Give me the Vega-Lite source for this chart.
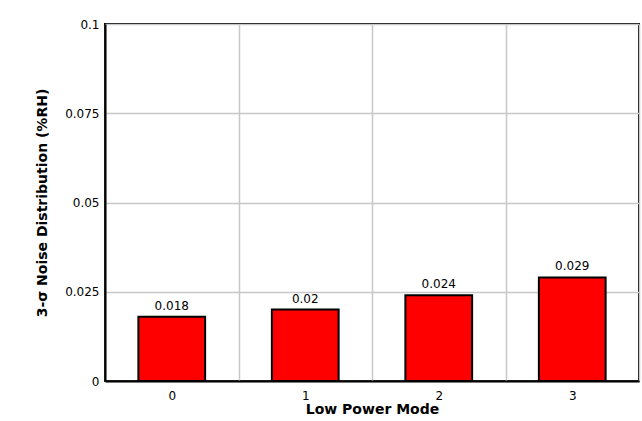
{
  "$schema": "https://vega.github.io/schema/vega-lite/v6.json",
  "width": 534,
  "height": 357,
  "autosize": "none",
  "padding": {"left": 105, "top": 24, "right": 3, "bottom": 40},
  "background": "white",
  "config": {
    "font": "DejaVu Sans",
    "view": {"stroke": "black", "strokeWidth": 2}
  },
  "data": {
    "values": [
      {"mode": "0", "noise": 0.018},
      {"mode": "1", "noise": 0.02},
      {"mode": "2", "noise": 0.024},
      {"mode": "3", "noise": 0.029}
    ]
  },
  "encoding": {
    "x": {
      "field": "mode",
      "type": "nominal",
      "scale": {"paddingInner": 0, "paddingOuter": 0},
      "axis": {
        "title": "Low Power Mode",
        "titleFont": "DejaVu Sans",
        "titleFontSize": 14,
        "titleFontWeight": "bold",
        "titleColor": "black",
        "titlePadding": 1,
        "labelAngle": 0,
        "labelFont": "DejaVu Sans",
        "labelFontSize": 12,
        "labelColor": "black",
        "labelPadding": 9,
        "ticks": false,
        "tickBand": "extent",
        "grid": true,
        "gridColor": "#c8c8c8",
        "gridWidth": 1.5,
        "domainColor": "black",
        "domainWidth": 2
      }
    },
    "y": {
      "field": "noise",
      "type": "quantitative",
      "scale": {"domain": [0, 0.1], "nice": false},
      "axis": {
        "title": "3-σ Noise Distribution (%RH)",
        "titleFont": "DejaVu Sans",
        "titleFontSize": 14,
        "titleFontWeight": "bold",
        "titleColor": "black",
        "titlePadding": 15,
        "values": [0, 0.025, 0.05, 0.075, 0.1],
        "labelExpr": "toString(datum.value)",
        "labelFont": "DejaVu Sans",
        "labelFontSize": 12,
        "labelColor": "black",
        "labelPadding": 6,
        "ticks": false,
        "tickSize": 0,
        "grid": true,
        "gridColor": "#c8c8c8",
        "gridWidth": 1.5,
        "domainColor": "black",
        "domainWidth": 2
      }
    }
  },
  "layer": [
    {
      "mark": {"type": "bar", "fill": "#ff0000", "stroke": "black", "strokeWidth": 2, "width": {"band": 0.5}}
    },
    {
      "mark": {"type": "text", "baseline": "alphabetic", "dy": -7, "fontSize": 12, "color": "black", "font": "DejaVu Sans"},
      "encoding": {"text": {"field": "noise", "type": "quantitative", "format": "~g"}}
    }
  ]
}
